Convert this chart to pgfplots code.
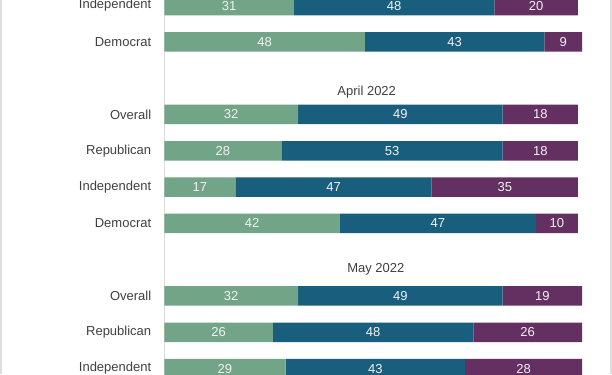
\documentclass[border=0pt]{standalone}
\usepackage{fontspec}
\setmainfont{Liberation Sans}
\usepackage{pgfplots}
\usepackage{pgfplotstable}
\pgfplotsset{compat=1.18}
\definecolor{cgreen}{HTML}{72A488}
\definecolor{cblue}{HTML}{1A5E7D}
\definecolor{cpurple}{HTML}{642F61}
\definecolor{txt}{HTML}{404040}
\definecolor{framec}{HTML}{DDDDDD}

\pgfplotstableread{
row g b p
0 31 48 20
1 48 43 9
3 32 49 18
4 28 53 18
5 17 47 35
6 42 47 10
8 32 49 19
9 26 48 26
10 29 43 28
}\data

\pgfplotsset{
  common/.style={
    at={(164.4bp,0bp)}, anchor=south west,
    scale only axis, width=417.6bp, height=374bp,
    xmin=0, xmax=100, ymin=-0.154, ymax=10.149, y dir=reverse,
  },
  lbl/.style={draw=none, mark=none,
    nodes near coords, point meta=explicit symbolic,
    every node near coord/.append style={anchor=center, text=white!95!black, inner sep=0pt,
      font=\fontsize{13bp}{15bp}\selectfont}},
}

\begin{document}
\begin{tikzpicture}[x=1bp,y=1bp]
\useasboundingbox (0,0) rectangle (612,374);
\clip (0,0) rectangle (612,374);
\fill[white] (0,0) rectangle (612,374);
\draw[framec, line width=1.5bp] (0.75,0) -- (0.75,374);
\draw[framec, line width=1.5bp] (610.75,0) -- (610.75,374);
\begin{axis}[common,
  xbar stacked, bar width=19.5bp,
  axis x line=none, axis y line=left,
  y axis line style={draw=framec, line width=1.5bp, -},
  ytick={0,1,3,4,5,6,8,9,10},
  yticklabels={Independent,Democrat,Overall,Republican,Independent,Democrat,Overall,Republican,Independent},
  major tick length=0pt,
  y tick label style={font=\fontsize{13bp}{15bp}\selectfont, text=txt, inner sep=0pt, xshift=-13bp, anchor=east},
]
\addplot[fill=cgreen, draw=none] table[x=g, y=row]{\data};
\addplot[fill=cblue, draw=none] table[x=b, y=row]{\data};
\addplot[fill=cpurple, draw=none] table[x=p, y=row]{\data};
\end{axis}
\begin{axis}[common, hide axis]
\addplot[lbl] table[x expr=\thisrow{g}/2, y=row, meta=g]{\data};
\addplot[lbl] table[x expr=\thisrow{g}+\thisrow{b}/2, y=row, meta=b]{\data};
\addplot[lbl] table[x expr=\thisrow{g}+\thisrow{b}+\thisrow{p}/2, y=row, meta=p]{\data};
\node[anchor=base, text=txt, font=\fontsize{13bp}{15bp}\selectfont] at (axis cs:48.44,2.482) {April 2022};
\node[anchor=base, text=txt, font=\fontsize{13bp}{15bp}\selectfont] at (axis cs:50.62,7.347) {May 2022};
\end{axis}
\end{tikzpicture}
\end{document}
